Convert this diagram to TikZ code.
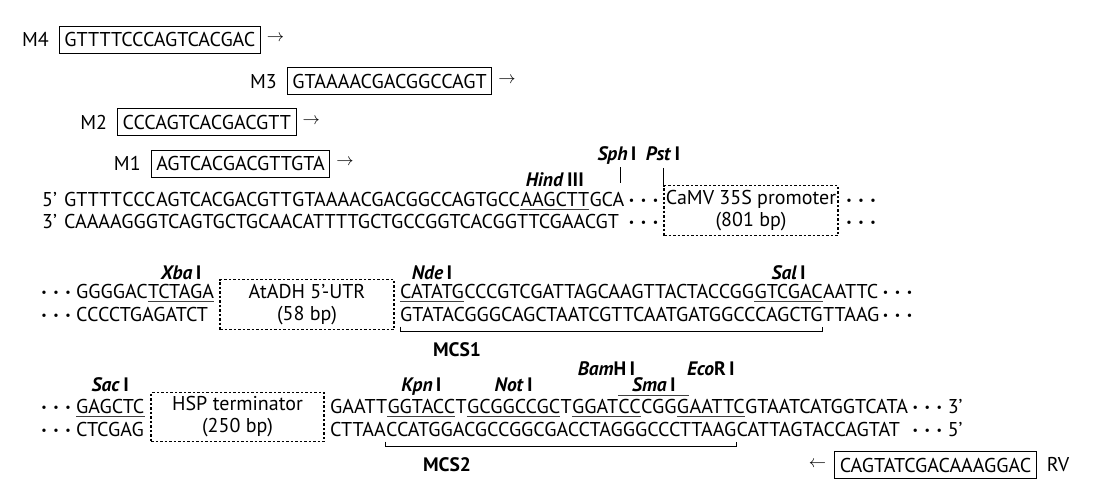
\documentclass[tikz,border=0pt]{standalone}
\usepackage{fontspec}
\setmainfont{PT Sans}
\usetikzlibrary{calc}
\newcommand\seqfont{\fontsize{20}{22}\selectfont}
\newcommand\labfont{\fontsize{19.5}{22}\selectfont\bfseries}
\newcommand\enz[2]{\textit{#1}\,#2}
\newcommand\onedot{\makebox[12pt][c]{\raisebox{2.5pt}{\fontsize{12}{12}\selectfont\textbullet}}}
\newcommand\threedots{\onedot\onedot\onedot}
\tikzset{
  seq/.style={font=\seqfont, inner sep=0pt, anchor=base west},
  enzlab/.style={font=\labfont, inner sep=0pt, anchor=base},
  mcslab/.style={font=\labfont, inner sep=0pt, anchor=base},
  primer/.style={draw, line width=0.8pt, font=\seqfont, inner xsep=5pt, inner ysep=0pt, minimum height=27pt, anchor=base west},
  dashbox/.style={draw, line width=1.1pt, dash pattern=on 2.5pt off 2pt, font=\seqfont, align=center, inner sep=0pt},
  ul/.style={line width=1pt, black!75},
  tick/.style={line width=0.8pt},
  bracket/.style={line width=0.9pt},
  arr/.style={font=\fontsize{19}{19}\selectfont, inner sep=0pt}
}
\begin{document}
\begin{tikzpicture}[x=1pt,y=-1pt]
\useasboundingbox (0,0) rectangle (1098,490);

% ---------- Row 1 ----------
\node[seq] (p5a) at (42,206.5) {5’};
\node[seq] (t1a) at (64,206.5) {GTTTT};
\node[seq] (t1b) at (t1a.base east) {CCC};
\node[seq] (t1c) at (t1b.base east) {AGTCACGACGTT};
\node[seq] (t1d) at (t1c.base east) {GTAAAACGACGGCCAGTGCC};
\node[seq] (t1e) at (t1d.base east) {AAGCTT};
\node[seq] (t1f) at (t1e.base east) {GCA};
\node[seq] (d1a) at ($(t1f.base east)+(1,0)$) {\threedots};
\node[seq] (p3a) at (42,228.5) {3’};
\node[seq] (b1) at (64,228.5) {CAAAAGGGTCAGTGCTGCAACATTTTGCTGCCGGTCACGGTTCGAACGT};
\node[seq] (d1b) at (d1a.base west |- 0,228.5) {\threedots};
\node[dashbox, minimum width=174pt, minimum height=50pt] (camv) at (751,210.5) {CaMV 35S promoter\\(801 bp)};
\node[seq] (d1c) at (843,206.5) {\threedots};
\node[seq] (d1d) at (843,228.5) {\threedots};
\draw[ul] ($(t1e.base west)+(0,3)$) -- ($(t1e.base east)+(0,3)$);

% primers
\node[primer, xshift=-5pt] (m4) at (t1a.base west |- 0,46.5) {GTTTTCCCAGTCACGAC};
\node[primer, xshift=-5pt] (m3) at (t1d.base west |- 0,88) {GTAAAACGACGGCCAGT};
\node[primer, xshift=-5pt] (m2) at (t1b.base west |- 0,129) {CCCAGTCACGACGTT};
\node[primer, xshift=-5pt] (m1) at (t1c.base west |- 0,170.5) {AGTCACGACGTTGTA};
\node[seq, anchor=base east] (m4lab) at ($(m4.base west)+(-10,0)$) {M4};
\node[seq, anchor=base east] (m3lab) at ($(m3.base west)+(-10,0)$) {M3};
\node[seq, anchor=base east] (m2lab) at ($(m2.base west)+(-10,0)$) {M2};
\node[seq, anchor=base east] (m1lab) at ($(m1.base west)+(-10,0)$) {M1};
\node[arr, anchor=west] (m4arr) at ($(m4.east)+(6,-1)$) {$\rightarrow$};
\node[arr, anchor=west] (m3arr) at ($(m3.east)+(6,-1)$) {$\rightarrow$};
\node[arr, anchor=west] (m2arr) at ($(m2.east)+(6,-1)$) {$\rightarrow$};
\node[arr, anchor=west] (m1arr) at ($(m1.east)+(6,-1)$) {$\rightarrow$};

% enzyme labels row 1
\node[enzlab] (hind) at (t1e.base |- 0,186.5) {\enz{Hind}{III}};
\node[enzlab] (sph) at (617,160.5) {\enz{Sph}{I}};
\node[enzlab] (pst) at (663,160.5) {\enz{Pst}{I}};
\coordinate (sphbot) at (620,183);
\coordinate (sphtop) at ($(sphbot)+(0,-16)$);
\draw[tick] (sphtop) -- (sphbot);
\coordinate (psttop) at ($(camv.north west)+(0,-17)$);
\draw[tick] (psttop) -- (camv.north west);

% ---------- Row 2 ----------
\node[seq] (d2a) at (38,298.5) {\threedots};
\node[seq] (t2a) at (76,298.5) {GGGGAC};
\node[seq] (t2b) at (t2a.base east) {TCTAGA};
\node[dashbox, minimum width=174pt, minimum height=50pt] (adh) at (307,304.5) {AtADH 5’-UTR\\(58 bp)};
\node[seq] (t2c) at (400,298.5) {CATATG};
\node[seq] (t2d) at (t2c.base east) {CCCGTCGATTAGCAAGTTACTACCGG};
\node[seq] (t2e) at (t2d.base east) {GTCGAC};
\node[seq] (t2f) at (t2e.base east) {AATTC};
\node[seq] (d2b) at ($(t2f.base east)+(1,0)$) {\threedots};
\node[seq] (d2c) at (38,321.5) {\threedots};
\node[seq] (b2a) at (76,321.5) {CCCCTGAGATCT};
\node[seq] (b2b) at (400,321.5) {GTATACGGGCAGCTAATCGTTCAATGATGGCCCAGCTG};
\node[seq] (b2c) at (b2b.base east) {TTAAG};
\node[seq] (d2d) at (d2b.base west |- 0,321.5) {\threedots};
\draw[ul] ($(t2b.base west)+(0,3)$) -- ($(t2b.base east)+(0,3)$);
\draw[ul] ($(t2c.base west)+(0,3)$) -- ($(t2c.base east)+(0,3)$);
\draw[ul] ($(t2e.base west)+(0,3)$) -- ($(t2e.base east)+(0,3)$);
\node[enzlab] (xba) at (t2b.base |- 0,279.5) {\enz{Xba}{I}};
\node[enzlab] (nde) at (t2c.base |- 0,279.5) {\enz{Nde}{I}};
\node[enzlab] (sal) at (t2e.base |- 0,279.5) {\enz{Sal}{I}};
\draw[bracket] ($(b2b.base west)+(0,5)$) -- ++(0,4.5) -| ($(b2b.base east)+(0,5)$);
\node[mcslab] (mcs1) at (457,356.5) {MCS1};

% ---------- Row 3 ----------
\node[seq] (d3a) at (38,413.5) {\threedots};
\node[seq] (t3L) at (76,413.5) {GAGCTC};
\node[seq] (d3b) at (38,436.5) {\threedots};
\node[seq] (b3L) at (76,436.5) {CTCGAG};
\node[dashbox, minimum width=173pt, minimum height=49pt] (hsp) at (237.5,417) {HSP terminator\\(250 bp)};
\node[seq] (t3a) at (330,413.5) {GAATT};
\node[seq] (t3b) at (t3a.base east) {GGTACC};
\node[seq] (t3c) at (t3b.base east) {T};
\node[seq] (t3d) at (t3c.base east) {GCGGCCGC};
\node[seq] (t3e) at (t3d.base east) {T};
\node[seq] (t3f) at (t3e.base east) {GGAT};
\node[seq] (t3g) at (t3f.base east) {CC};
\node[seq] (t3h) at (t3g.base east) {CGG};
\node[seq] (t3i) at (t3h.base east) {G};
\node[seq] (t3j) at (t3i.base east) {AATTC};
\node[seq] (t3k) at (t3j.base east) {GTAATCATGGTCATA};
\node[seq] (d3c) at ($(t3k.base east)+(1,0)$) {\threedots};
\node[seq] (e3a) at ($(d3c.base east)+(2,0)$) {3’};
\node[seq] (b3a) at (330,436.5) {CTTAA};
\node[seq] (b3b) at (b3a.base east) {CCATGGACGCCGGCGACCTAGGGCCCTTAAG};
\node[seq] (b3c) at (b3b.base east) {CATTAGTACCAGTAT};
\node[seq] (d3d) at (d3c.base west |- 0,436.5) {\threedots};
\node[seq] (e3b) at ($(d3d.base east)+(2,0)$) {5’};

\draw[ul] ($(t3L.base west)+(0,3)$) -- ($(t3L.base east)+(0,3)$);
\draw[ul] ($(t3b.base west)+(0,3)$) -- ($(t3b.base east)+(0,3)$);
\draw[ul] ($(t3d.base west)+(0,3)$) -- ($(t3d.base east)+(0,3)$);
\draw[ul] ($(t3f.base west)+(0,3)$) -- ($(t3g.base east)+(0,3)$);
\draw[ul] ($(t3i.base west)+(0,3)$) -- ($(t3j.base east)+(0,3)$);
\draw[ul] ($(t3g.base west)+(0,-18.5)$) -- ($(t3i.base east)+(0,-18.5)$);

\coordinate (bamc) at ($(t3f.base west)!0.5!(t3g.base east)$);
\coordinate (smac) at ($(t3g.base west)!0.5!(t3i.base east)$);
\coordinate (ecoc) at ($(t3i.base west)!0.5!(t3j.base east)$);
\node[enzlab] (sac) at (t3L.base |- 0,391) {\enz{Sac}{I}};
\node[enzlab] (kpn) at (t3b.base |- 0,391) {\enz{Kpn}{I}};
\node[enzlab] (not) at (t3d.base |- 0,391) {\enz{Not}{I}};
\node[enzlab] (bam) at (bamc |- 0,375) {\textit{Bam}H\,I};
\node[enzlab] (sma) at (smac |- 0,391) {\enz{Sma}{I}};
\node[enzlab] (eco) at (ecoc |- 0,375) {\textit{Eco}R\,I};

\draw[bracket] ($(b3b.base west)+(0,5)$) -- ++(0,4.5) -| ($(b3b.base east)+(0,5)$);
\node[mcslab] (mcs2) at (447,471.5) {MCS2};

% RV primer
\node[primer, anchor=center] (rv) at (935.5,465) {CAGTATCGACAAAGGAC};
\node[arr, anchor=east] (rvarr) at ($(rv.west)+(-8,-1)$) {$\leftarrow$};
\node[seq, anchor=west] (rvlab) at ($(rv.east)+(10,0)$) {RV};
\end{tikzpicture}
\end{document}
